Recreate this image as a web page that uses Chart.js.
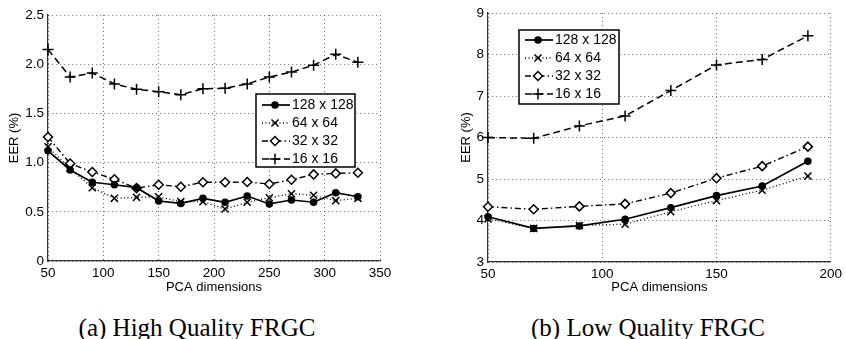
<!DOCTYPE html>
<html>
<head>
<meta charset="utf-8">
<script src="https://cdn.jsdelivr.net/npm/chart.js@4"></script>
<style>
  body { margin: 0; background: #fff; width: 846px; height: 339px; position: relative; overflow: hidden; }
  .panel { position: absolute; top: 0; height: 300px; }
  .cap { position: absolute; top: 316px; width: 300px; text-align: center; line-height: 24px;
         font-family: "Liberation Serif", "DejaVu Serif", serif; font-size: 25px; color: #000; }
</style>
</head>
<body>
<div class="panel" style="left:0;width:420px"><canvas id="hq"></canvas></div>
<div class="panel" style="left:420px;width:426px"><canvas id="lq"></canvas></div>
<div class="cap" style="left:47px">(a) High Quality FRGC</div>
<div class="cap" style="left:498px">(b) Low Quality FRGC</div>
<script>
const seriesNames = ["128 x 128", "64 x 64", "32 x 32", "16 x 16"];

// (a) high quality
const hqDims = [50, 70, 90, 110, 130, 150, 170, 190, 210, 230, 250, 270, 290, 310, 330];
const hq128 = [1.12, 0.925, 0.80, 0.775, 0.745, 0.61, 0.585, 0.637, 0.597, 0.66, 0.58, 0.62, 0.597, 0.694, 0.653];
const hq64 = [1.16, 0.94, 0.745, 0.637, 0.647, 0.653, 0.603, 0.603, 0.528, 0.597, 0.643, 0.684, 0.668, 0.613, 0.637];
const hq32 = [1.26, 0.99, 0.905, 0.83, 0.74, 0.775, 0.755, 0.80, 0.80, 0.803, 0.783, 0.826, 0.88, 0.89, 0.897];
const hq16 = [2.15, 1.87, 1.91, 1.80, 1.745, 1.72, 1.69, 1.75, 1.755, 1.80, 1.87, 1.92, 1.99, 2.10, 2.02];

// (b) low quality
const lqDims = [50, 70, 90, 110, 130, 150, 170, 190];
const lq128 = [4.09, 3.81, 3.87, 4.03, 4.31, 4.60, 4.83, 5.43];
const lq64 = [4.04, 3.81, 3.88, 3.91, 4.21, 4.48, 4.73, 5.07];
const lq32 = [4.33, 4.27, 4.34, 4.40, 4.66, 5.02, 5.31, 5.78];
const lq16 = [6.0, 5.98, 6.28, 6.52, 7.13, 7.75, 7.88, 8.45];

const FONT = "'Liberation Sans', Arial, sans-serif";

const styles = [
  { borderDash: [], borderWidth: 1.7, pointStyle: "circle", pointRadius: 3, pointBackgroundColor: "#000" },
  { borderDash: [1, 2.5], borderWidth: 1.3, pointStyle: "crossRot", pointRadius: 5, pointBackgroundColor: "#000" },
  { borderDash: [6, 3, 1.5, 3], borderWidth: 1.4, pointStyle: "rectRot", pointRadius: 4.5, pointBackgroundColor: "#fff" },
  { borderDash: [7, 4], borderWidth: 1.5, pointStyle: "cross", pointRadius: 5.5, pointBackgroundColor: "#000" },
];

function toDatasets(dims, series) {
  return series.map((vals, i) => ({
    label: seriesNames[i],
    data: dims.map((d, j) => ({ x: d, y: vals[j] })),
    borderColor: "#000",
    pointBorderColor: "#000",
    pointBorderWidth: 1.5,
    tension: 0,
    clip: false,
    ...styles[i],
  }));
}

// legend box drawn inside the plot, like the matlab one
const boxLegend = {
  id: "boxLegend",
  afterDatasetsDraw(chart, args, opts) {
    const ctx = chart.ctx;
    const { x, y, w, h } = opts;
    ctx.save();
    ctx.fillStyle = "#fff";
    ctx.fillRect(x, y, w, h);
    ctx.strokeStyle = "#000";
    ctx.lineWidth = 1.5;
    ctx.setLineDash([]);
    ctx.strokeRect(x, y, w, h);
    ctx.font = "14px " + FONT;
    ctx.textBaseline = "middle";
    chart.data.datasets.forEach((ds, i) => {
      const ry = y + opts.first + i * opts.step;
      ctx.strokeStyle = "#000";
      ctx.lineWidth = ds.borderWidth;
      ctx.setLineDash(ds.borderDash);
      ctx.beginPath();
      ctx.moveTo(x + 6, ry);
      ctx.lineTo(x + 34, ry);
      ctx.stroke();
      ctx.setLineDash([]);
      ctx.fillStyle = ds.pointBackgroundColor;
      ctx.lineWidth = 1.5;
      Chart.helpers.drawPoint(ctx, { pointStyle: ds.pointStyle, radius: ds.pointRadius, rotation: 0, borderWidth: 1.5 }, x + 19, ry);
      ctx.fillStyle = "#000";
      ctx.fillText(ds.label, x + 36, ry + 0.5);
    });
    ctx.restore();
  },
};

function axis(min, max, step, title, extra) {
  return {
    type: "linear",
    min: min,
    max: max,
    ticks: { stepSize: step, color: "#000", font: { family: FONT, size: 13.5 }, padding: 4, maxRotation: 0, autoSkip: false },
    grid: { color: "rgba(0,0,0,0.6)", drawTicks: false, lineWidth: 1 },
    border: { color: "#333", width: 1.2, dash: [1, 3] },
    title: { display: true, text: title, color: "#000", font: { family: FONT, size: 13 } },
    ...extra,
  };
}

function makeChart(id, dims, series, xr, yr, layoutPad, yWidth, legendBox) {
  const xAxis = axis(xr[0], xr[1], xr[2], "PCA dimensions", {
    afterFit: (s) => { s.height = 300 - layoutPad.bottomEdge; },
  });
  xAxis.title.padding = { top: 0, bottom: 5 };
  const yAxis = axis(yr[0], yr[1], yr[2], "EER (%)", {
    afterFit: (s) => { s.width = yWidth; },
  });
  yAxis.title.padding = { top: 7, bottom: 0 };
  return new Chart(document.getElementById(id), {
    type: "line",
    data: { datasets: toDatasets(dims, series) },
    options: {
      responsive: true,
      maintainAspectRatio: false,
      animation: false,
      layout: { padding: { left: layoutPad.left, right: layoutPad.right, top: layoutPad.top, bottom: 0 } },
      plugins: { legend: { display: false }, tooltip: { enabled: false }, boxLegend: legendBox },
      scales: { x: xAxis, y: yAxis },
    },
    plugins: [boxLegend],
  });
}

makeChart("hq", hqDims, [hq128, hq64, hq32, hq16], [50, 350, 50], [0, 2.5, 0.5],
  { left: 0, right: 40, top: 15, bottomEdge: 261 }, 48,
  { x: 256, y: 94, w: 99, h: 73, first: 11, step: 18 });

makeChart("lq", lqDims, [lq128, lq64, lq32, lq16], [50, 200, 50], [3, 9, 1],
  { left: 32, right: 14, top: 13, bottomEdge: 262 }, 36,
  { x: 99, y: 30, w: 100, h: 74, first: 10, step: 18 });
</script>
</body>
</html>
